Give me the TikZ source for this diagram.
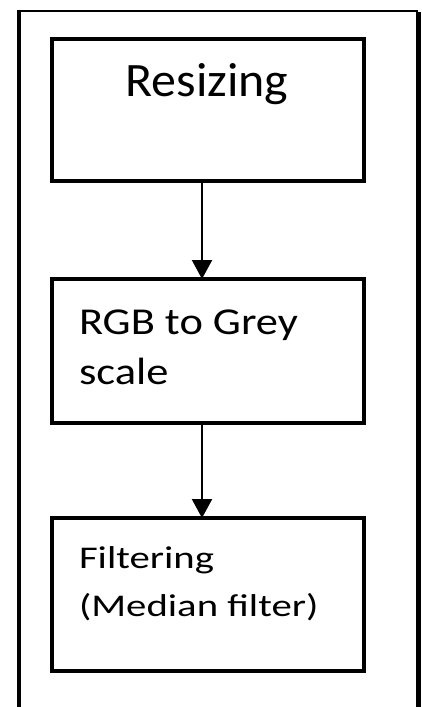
\documentclass[tikz,border=0pt]{standalone}
\usepackage{fontspec}
\setmainfont{Carlito}
\usetikzlibrary{arrows.meta}
\begin{document}
\begin{tikzpicture}[x=1pt,y=-1pt,
  stepbox/.style={draw=black,line width=3.2pt,minimum width=312pt,inner sep=0pt,outer sep=0pt},
  flow/.style={draw=black,line width=2.2pt,-{Triangle[width=20pt,length=19pt]}},
  lbl/.style={anchor=base west,inner sep=0pt,outer sep=0pt,align=left,text=black}]
\useasboundingbox (0,0) rectangle (421,707);
% outer frame (open at bottom)
\coordinate (fbl) at (19,707);
\coordinate (ftl) at (19,11);
\coordinate (ftr) at (418,11);
\coordinate (fbr) at (418,707);
\draw[line width=3.2pt] (fbl) -- (ftl);
\draw[line width=2.8pt] ([xshift=-1.6pt]ftl) -- (ftr);
\draw[line width=5pt] ([yshift=-1.4pt]ftr) -- (fbr);
% boxes
\node[stepbox,minimum height=142pt] (b1) at (208,110) {};
\node[stepbox,minimum height=144pt] (b2) at (208,351) {};
\node[stepbox,minimum height=153pt] (b3) at (208,594.5) {};
% labels (base anchor = baseline of the last line)
\node[lbl,font=\fontsize{48}{58}\selectfont] (t1) at (125.5,96.5) {\scalebox{1.04}[1]{Resizing}};
\node[lbl,font=\fontsize{38}{50}\selectfont] (t2) at (79,384) {\scalebox{1.17}[1]{RGB to Grey}\\\scalebox{1.17}[1]{scale}};
\node[lbl,font=\fontsize{31.6}{48.5}\selectfont] (t3) at (79,616.5) {\scalebox{1.29}[1]{Filtering}\\\scalebox{1.29}[1]{(Median filter)}};
% connectors
\draw[flow] ([xshift=-6pt]b1.south) -- ([xshift=-6pt]b2.north);
\draw[flow] ([xshift=-6pt]b2.south) -- ([xshift=-6pt]b3.north);
\end{tikzpicture}
\end{document}
